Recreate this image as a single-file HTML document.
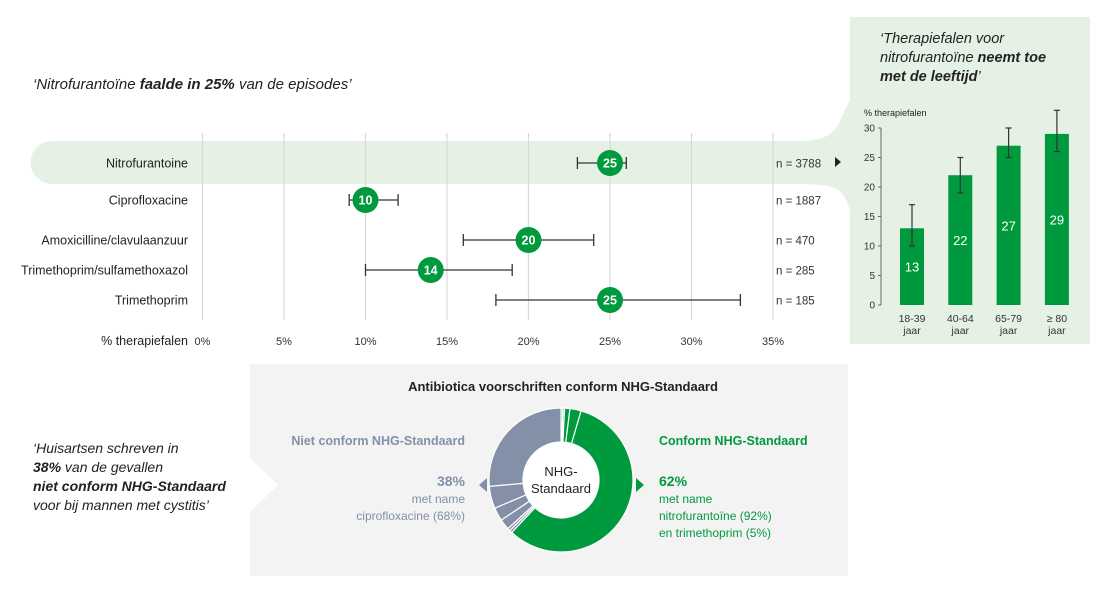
<!DOCTYPE html>
<html><head><meta charset="utf-8"><style>
body{margin:0;width:1100px;height:584px;background:#fff;overflow:hidden;font-family:"Liberation Sans",sans-serif}
svg text{font-family:"Liberation Sans",sans-serif}
</style></head><body>
<svg id="s" width="1100" height="584" viewBox="0 0 1100 584">
<rect x="850" y="17" width="240" height="327" fill="#e6f1e6"/>
<path d="M52,141 H800 Q830,141 838,125 Q845,110 850,100 V210 Q845,195 838,190 Q830,184 800,184 H52 A21.5,21.5 0 0 1 52,141Z" fill="#e6f1e6"/>
<text x="33" y="89" font-size="15" font-style="italic" fill="#222">‘Nitrofurantoïne <tspan font-weight="bold">faalde in 25%</tspan> van de episodes’</text>
<g id="forest"></g>
<text x="188" y="345" font-size="12.5" text-anchor="end" fill="#222">% therapiefalen</text>
<path d="M835,157 l6,5 l-6,5z" fill="#222"/>
<text x="880" y="43" font-size="14.5" font-style="italic" fill="#222"><tspan>‘Therapiefalen voor</tspan><tspan x="880" dy="19">nitrofurantoïne <tspan font-weight="bold">neemt toe</tspan></tspan><tspan x="880" dy="19" font-weight="bold">met de leeftijd<tspan font-weight="normal">’</tspan></tspan></text>
<text x="864" y="116" font-size="9" fill="#222">% therapiefalen</text>
<g id="bars"></g>
<path d="M250,364 H848 V576 H250 V512 L278,485 L250,458Z" fill="#f3f3f3"/>
<text x="563" y="391" font-size="13" font-weight="bold" text-anchor="middle" fill="#222">Antibiotica voorschriften conform NHG-Standaard</text>
<text x="33" y="453" font-size="14" font-style="italic" fill="#222"><tspan>‘Huisartsen schreven in</tspan><tspan x="33" dy="19"><tspan font-weight="bold">38%</tspan> van de gevallen</tspan><tspan x="33" dy="19" font-weight="bold">niet conform NHG-Standaard</tspan><tspan x="33" dy="19">voor bij mannen met cystitis’</tspan></text>
<text x="465" y="445" font-size="12.5" font-weight="bold" text-anchor="end" fill="#8390a8">Niet conform NHG-Standaard</text>
<text x="465" y="486" font-size="14" font-weight="bold" text-anchor="end" fill="#8390a8">38%</text>
<text x="465" y="503" font-size="12" text-anchor="end" fill="#8390a8"><tspan>met name</tspan><tspan x="465" dy="17">ciprofloxacine (68%)</tspan></text>
<path d="M487,478 l-8,7 l8,7z" fill="#8390a8"/>
<path d="M636,478 l8,7 l-8,7z" fill="#009a3e"/>
<text x="659" y="445" font-size="12.5" font-weight="bold" fill="#009a3e">Conform NHG-Standaard</text>
<text x="659" y="486" font-size="14" font-weight="bold" fill="#009a3e">62%</text>
<text x="659" y="503" font-size="12" fill="#009a3e"><tspan>met name</tspan><tspan x="659" dy="17">nitrofurantoïne (92%)</tspan><tspan x="659" dy="17">en trimethoprim (5%)</tspan></text>
<g id="donut"></g>
<text x="561" y="476" font-size="13" text-anchor="middle" fill="#222"><tspan>NHG-</tspan><tspan x="561" dy="17">Standaard</tspan></text>
</svg>
<script>
const drugs=["Nitrofurantoine","Ciprofloxacine","Amoxicilline/clavulaanzuur","Trimethoprim/sulfamethoxazol","Trimethoprim"];
const failPct=[25,10,20,14,25];
const ciLow=[23,9,16,10,18];
const ciHigh=[26,12,24,19,33];
const nLabels=["n = 3788","n = 1887","n = 470","n = 285","n = 185"];
const xTicks=[0,5,10,15,20,25,30,35];
const ageGroups=["18-39","40-64","65-79","≥ 80"];
const ageFail=[13,22,27,29];
const ageLow=[10,19,25,26];
const ageHigh=[17,25,30,33];
const yTicks=[0,5,10,15,20,25,30];
const donutGreen=[0.4,0.4,1.2,2.5,57.5];
const donutGray=[0.6,0.6,2.4,3,5,26.4];
const NS="http://www.w3.org/2000/svg";
function mk(t,a,p,txt){const e=document.createElementNS(NS,t);for(const k in a)e.setAttribute(k,a[k]);if(txt!=null)e.textContent=txt;p.appendChild(e);return e;}
const fx=v=>202.5+v*16.3;
const rowY=[163,200,240,270,300];
const F=document.getElementById('forest');
xTicks.forEach(t=>{
 const l=mk('line',{x1:fx(t),x2:fx(t),y1:133,y2:320,stroke:'#d8d8d8','stroke-width':1.2},F);
 
 
 const tx=mk('text',{x:fx(t),y:345,'font-size':11,'text-anchor':'middle',fill:'#333'},F,t+'%');
 
 
});
drugs.forEach((d,i)=>{
 const y=rowY[i];
 const lb=mk('text',{x:188,y:y+4.5,'font-size':12.5,'text-anchor':'end',fill:'#222'},F,d);
 
 
 const g=mk('g',{},F);
 
 
 mk('line',{x1:fx(ciLow[i]),x2:fx(ciHigh[i]),y1:y,y2:y,stroke:'#333','stroke-width':1.3},g);
 mk('line',{x1:fx(ciLow[i]),x2:fx(ciLow[i]),y1:y-6,y2:y+6,stroke:'#333','stroke-width':1.3},g);
 mk('line',{x1:fx(ciHigh[i]),x2:fx(ciHigh[i]),y1:y-6,y2:y+6,stroke:'#333','stroke-width':1.3},g);
 const c=mk('circle',{cx:fx(failPct[i]),cy:y,r:13,fill:'#009a3e'},F);
 
 
 const v=mk('text',{x:fx(failPct[i]),y:y+4.5,'font-size':12.5,'font-weight':'bold','text-anchor':'middle',fill:'#fff'},F,failPct[i]);
 
 
 const n=mk('text',{x:776,y:y+4.5,'font-size':11.5,fill:'#333'},F,nLabels[i]);
 
 
});
const B=document.getElementById('bars');
const by=v=>305-v*5.9;
const bx=i=>912+i*48.3;
mk('line',{x1:881,x2:881,y1:by(30),y2:by(0),stroke:'#666','stroke-width':1},B);
yTicks.forEach(t=>{
 mk('line',{x1:878,x2:881,y1:by(t),y2:by(t),stroke:'#666'},B);
 const tx=mk('text',{x:875,y:by(t)+3.5,'font-size':10,'text-anchor':'end',fill:'#333'},B,t);
 
 
});
ageGroups.forEach((a,i)=>{
 const r=mk('rect',{x:bx(i)-12,y:by(ageFail[i]),width:24,height:by(0)-by(ageFail[i]),fill:'#009a3e'},B);
 
 
 const g=mk('g',{stroke:'#333','stroke-width':1.2},B);
 
 
 mk('line',{x1:bx(i),x2:bx(i),y1:by(ageHigh[i]),y2:by(ageLow[i])},g);
 mk('line',{x1:bx(i)-3,x2:bx(i)+3,y1:by(ageHigh[i]),y2:by(ageHigh[i])},g);
 mk('line',{x1:bx(i)-3,x2:bx(i)+3,y1:by(ageLow[i]),y2:by(ageLow[i])},g);
 const v=mk('text',{x:bx(i),y:by(ageFail[i]/2)+5,'font-size':13,'text-anchor':'middle',fill:'#fff'},B,ageFail[i]);
 
 
 const l=mk('text',{x:bx(i),y:322,'font-size':10.5,'text-anchor':'middle',fill:'#333'},B);
 
 
 mk('tspan',{x:bx(i)},l,a);mk('tspan',{x:bx(i),dy:12},l,'jaar');
});
const D=document.getElementById('donut');
const cx=561,cy=480,R=72,r0=38;
let acc=0;
function arc(p0,p1,fill){
 const a0=p0/100*2*Math.PI-Math.PI/2,a1=p1/100*2*Math.PI-Math.PI/2,lg=(p1-p0)>50?1:0;
 const P=(rr,a)=>(cx+rr*Math.cos(a)).toFixed(2)+','+(cy+rr*Math.sin(a)).toFixed(2);
 return mk('path',{d:`M${P(R,a0)} A${R},${R} 0 ${lg} 1 ${P(R,a1)} L${P(r0,a1)} A${r0},${r0} 0 ${lg} 0 ${P(r0,a0)}Z`,fill:fill,stroke:'#fff','stroke-width':1.2},D);
}
donutGreen.forEach((v,i)=>{const p=arc(acc,acc+v,i<2?'#6cc48a':'#009a3e');acc+=v;
 
 });
donutGray.forEach(v=>{const p=arc(acc,acc+v,'#8390a8');acc+=v;
 
 });
mk('circle',{cx:cx,cy:cy,r:r0-0.5,fill:'#fff'},D);
</script>
</body></html>
